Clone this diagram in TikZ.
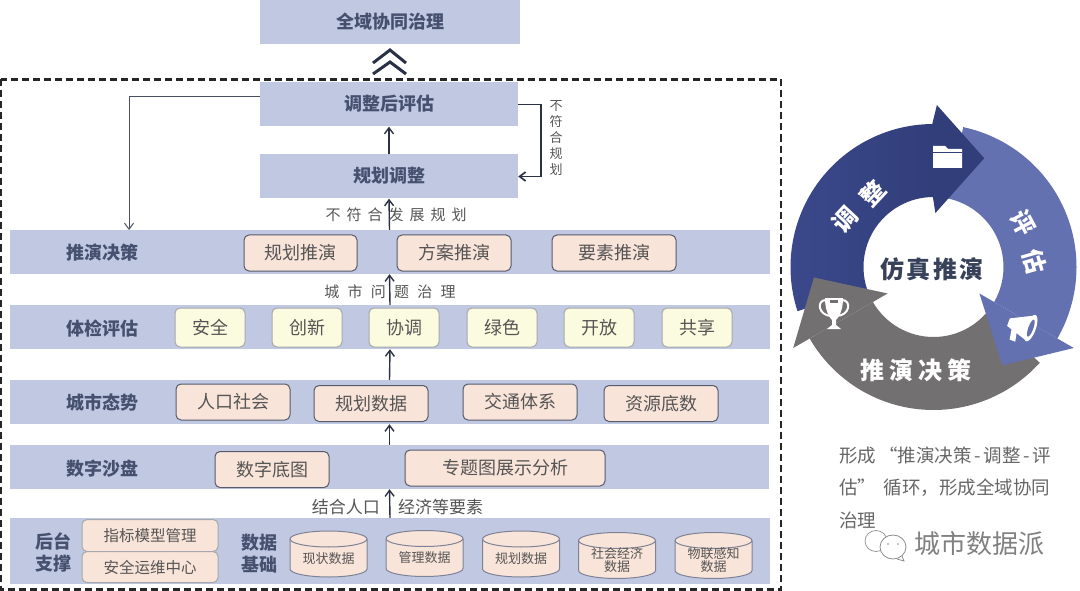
\documentclass[tikz,border=0pt]{standalone}
\usepackage{fontspec}
\setmainfont{Noto Sans CJK SC}
\usetikzlibrary{arrows.meta}
\definecolor{bandc}{HTML}{C1C8E2}
\definecolor{pillc}{HTML}{F9E4D9}
\definecolor{yelc}{HTML}{FBFBDF}
\definecolor{edgec}{HTML}{565B6B}
\definecolor{yedge}{HTML}{A6A8AC}
\definecolor{cyledge}{HTML}{7E8296}
\definecolor{headc}{HTML}{465170}
\definecolor{txtc}{HTML}{555555}
\definecolor{linec}{HTML}{2B3145}
\definecolor{ringl}{HTML}{3B498C}
\definecolor{ringa}{HTML}{323E7A}
\definecolor{ringb}{HTML}{6471B1}
\definecolor{ringc}{HTML}{737071}
\newcommand{\fs}[1]{\fontsize{#1}{#1}\selectfont}
\tikzset{
 band/.style={fill=bandc,draw=none,inner sep=0pt,font=\fs{18}\bfseries,text=headc,text height=18pt,text depth=5pt},
 pill/.style={rectangle,rounded corners=5pt,fill=pillc,draw=edgec,line width=1pt,inner sep=0pt,font=\fs{18},text=txtc,text height=18pt,text depth=5pt},
 ypill/.style={pill,fill=yelc,draw=yedge,minimum width=70,minimum height=39},
 spill/.style={pill,draw=yedge,font=\fs{15.5},minimum width=136,text height=16pt,text depth=4pt},
 head/.style={font=\fs{18}\bfseries,text=headc,inner sep=0pt},
 note/.style={font=\fs{15},text=txtc,inner sep=0pt},
 cylbody/.style={fill=pillc,draw=cyledge,line width=1pt},
 cyltext/.style={inner sep=0pt,font=\fs{13},text=txtc,align=center},
 flow/.style={draw=linec,line width=1.4pt,-{Straight Barb[length=6pt,width=9pt,line width=1.4pt]}},
 ringtxt/.style={text=white,font=\fs{24}\bfseries,inner sep=0pt},
}
% #1 name, #2 position, #3 text
\newcommand{\cylnode}[3]{%
 \begin{scope}[shift={#2}]
 \draw[cylbody] (-38.5,-15) -- (-38.5,15) arc[start angle=180,end angle=360,x radius=38.5pt,y radius=8pt]
   -- (38.5,-15) arc[start angle=0,end angle=180,x radius=38.5pt,y radius=8pt] -- cycle;
 \draw[cylbody,fill=none] (-38.5,-15) arc[start angle=180,end angle=360,x radius=38.5pt,y radius=8pt];
 \node[cyltext] (#1) at (0,4.5) {#3};
 \end{scope}}
\begin{document}
\begin{tikzpicture}[x=1pt,y=-1pt]
\useasboundingbox (0,0) rectangle (1080,591);
% dashed frame
\draw[draw=black!85,line width=2.1pt,dash pattern=on 7pt off 4pt] (1,79.5) rectangle (781,589.5);
% top stack
\node[band,minimum width=260,minimum height=44] (goal) at (390,22) {全域协同治理};
\node[band,minimum width=258,minimum height=44] (evalb) at (389,104.5) {调整后评估};
\node[band,minimum width=258,minimum height=44] (adj) at (389,176.5) {规划调整};
% chevrons
\draw[linec,line width=3pt] (373,63) -- (390,50) -- (406,63);
\draw[linec,line width=3pt] (373,74) -- (390,62) -- (406,74);
% bands
\node[band,minimum width=760,minimum height=44] (b1) at (389.5,252) {};
\node[band,minimum width=760,minimum height=44] (b2) at (390,327) {};
\node[band,minimum width=759,minimum height=44] (b3) at (389.5,402) {};
\node[band,minimum width=759,minimum height=44] (b4) at (389.5,467) {};
\node[band,minimum width=760,minimum height=66] (b5) at (390,551) {};
% band heads
\node[head] (h1) at (102.5,253) {推演决策};
\node[head] (h2) at (102.5,328.5) {体检评估};
\node[head] (h3) at (102.5,402.5) {城市态势};
\node[head] (h4) at (102.5,468.5) {数字沙盘};
\node[head,align=center] (h5) at (53,552) {后台\\[4pt]支撑};
\node[head,align=center] (h6) at (259.5,554) {数据\\[4pt]基础};
% flows
\draw[flow] (b1.north) -- (adj.south);
\draw[flow] (adj.north) -- (evalb.south);
\draw[flow] (b2.north) -- (b1.south);
\draw[flow] (b3.north) -- (b2.south);
\draw[flow] (b4.north) -- (b3.south);
\draw[flow] (b5.north) -- (b4.south);
\draw[draw=linec!85,line width=1pt,-{Straight Barb[length=6pt,width=9pt,line width=1pt]}] (evalb.west |- 0,97) -| (129,230);
\draw[draw=linec,line width=1.7pt,-{Straight Barb[length=6pt,width=9pt,line width=1.7pt]}] (evalb.east) -- (541,104.5) -- (541,176.5) -- (adj.east);
% row 1
\node[pill,minimum width=113,minimum height=36] (p11) at (300.5,253) {规划推演};
\node[pill,minimum width=114,minimum height=36] (p12) at (454,253) {方案推演};
\node[pill,minimum width=124,minimum height=36] (p13) at (614,253) {要素推演};
% row 2
\node[ypill] (p21) at (210,327.5) {安全};
\node[ypill] (p22) at (307,327.5) {创新};
\node[ypill] (p23) at (404,327.5) {协调};
\node[ypill] (p24) at (502,327.5) {绿色};
\node[ypill] (p25) at (599,327.5) {开放};
\node[ypill] (p26) at (697,327.5) {共享};
% row 3
\node[pill,minimum width=114,minimum height=36] (p31) at (233,402) {人口社会};
\node[pill,minimum width=114,minimum height=36] (p32) at (371,403.5) {规划数据};
\node[pill,minimum width=114,minimum height=36] (p33) at (520,402) {交通体系};
\node[pill,minimum width=114,minimum height=36] (p34) at (661,403.5) {资源底数};
% row 4
\node[pill,minimum width=114,minimum height=36] (p41) at (272,469.5) {数字底图};
\node[pill,minimum width=200,minimum height=36] (p42) at (505,468) {专题图展示分析};
% row 5
\node[spill,minimum height=32] (s1) at (150,535.5) {指标模型管理};
\node[spill,minimum height=31] (s2) at (150,567) {安全运维中心};
\cylnode{c1}{(328.5,554)}{现状数据}
\cylnode{c2}{(424.5,553.5)}{管理数据}
\cylnode{c3}{(521,554)}{规划数据}
\cylnode{c4}{(617,555.5)}{社会经济\\[0pt]数据}
\cylnode{c5}{(713.5,555.5)}{物联感知\\[0pt]数据}
% flow notes
\node[note] (n1) at (396,215) {\addfontfeature{LetterSpace=40}不符合发展规划};
\node[note] (n2) at (390,292) {\addfontfeature{LetterSpace=55}城市问题治理};
\node[note,font=\fs{17},anchor=east] (n3) at (380,507) {结合人口};
\node[note,font=\fs{17},anchor=west] (n4) at (398,507) {经济等要素};
\node[note,font=\fs{13},align=center,text width=14] (n5) at (556,138.5) {不\\[3pt]符\\[3pt]合\\[3pt]规\\[3pt]划};
% cycle
\begin{scope}[shift={(933.5,267)},y=1pt]
\path[left color=ringl,right color=ringa] (90:143) arc[start angle=90,end angle=198,radius=143] -- (198:70) arc[start angle=198,end angle=90,radius=70] -- cycle;
\fill[ringb] (78:143) arc[start angle=78,end angle=-30,radius=143] -- (-30:70) arc[start angle=-30,end angle=78,radius=70] -- cycle;
\fill[ringc] (-42:143) arc[start angle=-42,end angle=-150,radius=143] -- (-150:70) arc[start angle=-150,end angle=-42,radius=70] -- cycle;
\fill[ringa] (90.5:143) -- (88.8:162) -- (65:120) -- (88:54) -- (90.5:70) -- cycle;
\fill[ringb] (-30:162) -- (-55:120) -- (-30:53) -- cycle;
\fill[ringc] (210:162) -- (185:120) -- (210:53) -- cycle;
\end{scope}
\node[ringtxt,rotate=47] (r1) at (845,220) {调};
\node[ringtxt,rotate=47] (r2) at (873,193) {整};
\node[ringtxt,rotate=-62] (r3) at (1023,223) {评};
\node[ringtxt,rotate=-74] (r4) at (1035,262) {估};
\node[ringtxt] (r5) at (916,370) {\addfontfeature{LetterSpace=22}推演决策};
\node[inner sep=0pt,font=\fs{24}\bfseries,text=headc!80!black] (r6) at (932,269) {\addfontfeature{LetterSpace=10}仿真推演};
% folder
\fill[white] (933,168) -- (933,146) -- (945,146) -- (948,149) -- (962,149) -- (962,168) -- cycle;
\draw[ringa,line width=.8pt] (933,152) -- (962,152);
% trophy
\draw[white,line width=2pt] (826,300) .. controls (816,300) and (818,316) .. (832,316);
\draw[white,line width=2pt] (842,300) .. controls (852,300) and (850,316) .. (836,316);
\fill[white] (825,298) -- (843,298) .. controls (843,312) and (838,318) .. (836,320) -- (836,325) -- (841,329) -- (827,329) -- (832,325) -- (832,320) .. controls (830,318) and (825,312) .. (825,298) -- cycle;
\fill[ringc] (830,300) -- (838,300) -- (838,303) -- (830,303) -- cycle;
% megaphone
\begin{scope}[shift={(1022,326)},rotate=-20]
\fill[white] (-14,-3) -- (8,-14) -- (8,12) -- (-14,5) -- cycle;
\fill[white] (-9,5) -- (-3,7) -- (-1,17) -- (-7,17) -- cycle;
\fill[white] (9,-1) circle[x radius=5,y radius=14];
\fill[ringb] (9,-1) circle[x radius=2.5,y radius=9];
\end{scope}
% caption
\node[note,font=\fs{18.5},anchor=west,text=txtc!90] (t1) at (839,455) {\hbox to 212pt{形成\hfil{}“推演决策\hfil{}-\hfil{}调整\hfil{}-\hfil{}评}};
\node[note,font=\fs{18.5},anchor=west,text=txtc!90] (t2) at (839,488) {\hbox to 211pt{估”\hfil{}循环，形成全域协同}};
\node[note,font=\fs{18.5},anchor=west,text=txtc!90] (t3) at (839,520) {治理};
% watermark
\draw[black!40,line width=.8pt] (876,541) ellipse[x radius=11pt,y radius=10.5pt];
\draw[black!45,line width=.8pt,fill=white] (893,547) ellipse[x radius=13pt,y radius=12pt];
\draw[black!45,line width=.8pt] (902,556) -- (904,561) -- (897,559);
\fill[black!45] (888,544) circle[radius=.9pt] (898,544) circle[radius=.9pt];
\node[inner sep=0pt,anchor=west,font=\fs{26},text=black!50] (wm) at (914,544) {城市数据派};
\end{tikzpicture}
\end{document}
